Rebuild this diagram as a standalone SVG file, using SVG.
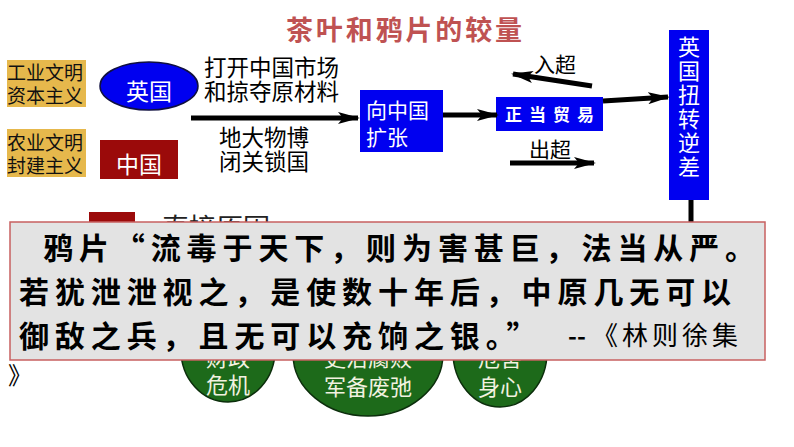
<svg xmlns="http://www.w3.org/2000/svg" width="794" height="447" viewBox="0 0 794 447">
<defs>
<marker id="ah" markerUnits="userSpaceOnUse" markerWidth="22" markerHeight="12" refX="20" refY="6" orient="auto">
<path d="M0,0 L22,6 L0,12 L5,6 z" fill="#000"/>
</marker>
<clipPath id="aboveBox"><rect x="0" y="0" width="794" height="222"/></clipPath>
<clipPath id="belowBox"><rect x="0" y="360" width="794" height="87"/></clipPath>
<style>
.cjk{font-family:"Noto Sans CJK SC","Noto Sans CJK JP",sans-serif;}
.lbl{font-size:19px;fill:#111;}
.wt{fill:#fff;}
.blk{fill:#000;}
.conn{stroke:#000;stroke-width:5;fill:none;marker-end:url(#ah);}
.blue{fill:#0000f0;}
.green{fill:#1d6a1a;stroke:#0b2e0b;stroke-width:1.5;}
.gt{font-size:22px;fill:#f2f2e0;}
.q{font-size:30px;font-weight:bold;fill:#000;letter-spacing:5.9px;}
</style>
</defs>
<rect width="794" height="447" fill="#fff"/>

<g id="title"><text class="cjk" x="286" y="40" font-size="27" font-weight="bold" fill="#bf5252" textLength="236" lengthAdjust="spacing">茶叶和鸦片的较量</text></g>

<g id="industrial"><rect x="7" y="60" width="79" height="47" fill="#e6b84c"/><text class="cjk lbl" x="7" y="80">工业文明</text><text class="cjk lbl" x="7" y="103">资本主义</text></g>
<g id="agricultural"><rect x="7" y="129" width="79" height="48" fill="#e6b84c"/><text class="cjk lbl" x="7" y="150">农业文明</text><text class="cjk lbl" x="7" y="173">封建主义</text></g>

<g id="britain"><ellipse cx="149" cy="86" rx="49" ry="24" fill="#0000f0" stroke="#101040" stroke-width="1.5"/><text class="cjk wt" x="149" y="100" font-size="23" text-anchor="middle">英国</text></g>
<g id="china"><rect x="100" y="140" width="78" height="39" fill="#9b0a0a"/><text class="cjk wt" x="139" y="173" font-size="23" text-anchor="middle">中国</text></g>

<g id="labels-top"><text class="cjk blk" x="204" y="76" font-size="22.5">打开中国市场</text><text class="cjk blk" x="204" y="100" font-size="22.5">和掠夺原材料</text></g>
<g id="labels-bottom"><text class="cjk blk" x="219" y="146" font-size="22.5">地大物博</text><text class="cjk blk" x="219" y="170" font-size="22.5">闭关锁国</text></g>

<g id="expand"><rect class="blue" x="360" y="90" width="83" height="62"/><text class="cjk wt" x="366" y="118" font-size="21">向中国</text><text class="cjk wt" x="366" y="145" font-size="21">扩张</text></g>

<g id="trade"><rect class="blue" x="496" y="97" width="107" height="34"/><text class="cjk wt" x="505" y="121" font-size="17" font-weight="bold" letter-spacing="7">正当贸易</text></g>

<g id="reverse"><rect class="blue" x="669" y="30" width="40" height="170"/>
<g class="cjk wt" font-size="22" text-anchor="middle">
<text x="689" y="55">英</text><text x="689" y="79">国</text><text x="689" y="103">扭</text><text x="689" y="127">转</text><text x="689" y="151">逆</text><text x="689" y="175">差</text>
</g></g>

<g id="import-label"><text class="cjk blk" x="534" y="72" font-size="21">入超</text></g>
<g id="export-label"><text class="cjk blk" x="529" y="157" font-size="21">出超</text></g>

<g id="connectors">
<line class="conn" x1="191" y1="118" x2="358" y2="118"/>
<line class="conn" x1="443" y1="115" x2="497" y2="115"/>
<line class="conn" x1="603" y1="101" x2="668" y2="97"/>
<line class="conn" x1="592" y1="86" x2="513" y2="74"/>
<line class="conn" x1="510" y1="163" x2="594" y2="163"/>
<line x1="691" y1="200" x2="691" y2="230" stroke="#000" stroke-width="5"/>
</g>

<g id="direct-cause"><rect x="89" y="212" width="46" height="30" fill="#9b0a0a"/><text class="cjk" x="162" y="238" font-size="27" fill="#222" clip-path="url(#aboveBox)">直接原因</text></g>

<g id="finance"><ellipse class="green" cx="228" cy="350" rx="47" ry="52"/><g clip-path="url(#belowBox)"><text class="cjk gt" x="228" y="366" text-anchor="middle">财政</text></g><text class="cjk gt" x="228" y="393" text-anchor="middle">危机</text></g>
<g id="military"><ellipse class="green" cx="368" cy="354" rx="75" ry="62"/><g clip-path="url(#belowBox)"><text class="cjk gt" x="368" y="366" text-anchor="middle">吏治腐败</text></g><text class="cjk gt" x="368" y="395" text-anchor="middle">军备废弛</text></g>
<g id="health"><ellipse class="green" cx="500" cy="352" rx="47" ry="55"/><g clip-path="url(#belowBox)"><text class="cjk gt" x="500" y="366" text-anchor="middle">危害</text></g><text class="cjk gt" x="500" y="395" text-anchor="middle">身心</text></g>

<g id="quote">
<rect x="10" y="222" width="755" height="138" fill="#e3e3e3" stroke="#c86060" stroke-width="1.5"/>
<text class="cjk q" x="43" y="259">鸦片“流毒于天下，则为害甚巨，法当从严。</text>
<text class="cjk q" x="19" y="303">若犹泄泄视之，是使数十年后，中原几无可以</text>
<text class="cjk q" x="19" y="347">御敌之兵，且无可以充饷之银。”</text>
<text class="cjk" x="568" y="345" font-size="24" font-weight="bold" fill="#000">--</text>
<text class="cjk" x="592" y="345" font-size="26" fill="#000" letter-spacing="4">《林则徐集</text>
<text class="cjk" x="8" y="384" font-size="24" fill="#000">》</text>
</g>
</svg>
